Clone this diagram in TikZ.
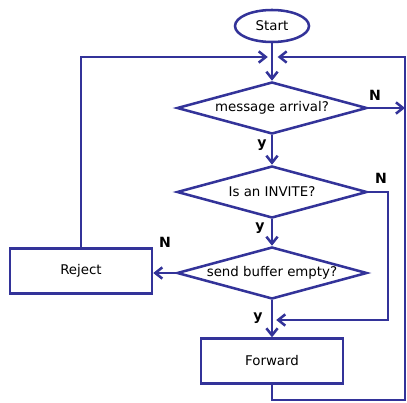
\documentclass[tikz,border=0pt]{standalone}
\usepackage{fontspec}
\setmainfont{DejaVu Sans}
\usetikzlibrary{shapes.geometric}
\usetikzlibrary{arrows.meta}

\definecolor{flowblue}{RGB}{51,51,153}

\begin{document}
\begin{tikzpicture}[x=0.025cm, y=-0.025cm, line width=1.8pt, draw=flowblue,
    font=\fontsize{9.5}{11}\selectfont,
    >={Straight Barb[length=5pt,width=8pt]},
    terminal/.style={ellipse, draw=flowblue, minimum width=1.85cm, minimum height=0.8cm, inner sep=0pt},
    decision/.style={diamond, draw=flowblue, aspect=3.5, minimum width=4.75cm, minimum height=1.3cm, inner sep=0pt},
    process/.style={rectangle, draw=flowblue, minimum width=3.55cm, minimum height=1.12cm},
    answer/.style={font=\fontsize{10}{12}\selectfont\bfseries}]
    \useasboundingbox (0,0) rectangle (407,402);

    % Nodes
    \node[terminal] (start) at (272,26) {Start};
    \node[decision] (arrival) at (272,108) {message arrival?};
    \node[decision] (invite) at (272,192) {Is an INVITE?};
    \node[decision] (buffer) at (272,273) {send buffer empty?};
    \node[process] (reject) at (81,271) {Reject};
    \node[process] (forward) at (272,361) {Forward};

    % Junctions
    \coordinate (join) at (272,57);
    \coordinate (merge) at (272,320);
    \coordinate (inviteout) at (388,192);
    \coordinate (loopbr) at (405,400);

    % Main flow
    \draw[->] (start.south) -- (arrival.north);
    \draw[->] (arrival.south) -- (invite.north);
    \draw[->] (invite.south) -- (buffer.north);
    \draw[->] (buffer.south) -- (forward.north);

    % No branches
    \draw[->] (arrival.east) -- (arrival.east -| loopbr);
    \draw[->] (invite.east) -- (inviteout) |- ([xshift=3]merge);
    \draw[->] (buffer.west) -- (buffer.west -| reject.east);

    % Loops back to the top
    \draw[->] (reject.north) |- ([xshift=-3]join);
    \draw[->] (forward.south) |- (loopbr) |- ([xshift=4]join);

    % Labels
    \node[answer] (n1) at (375,95) {N};
    \node[answer] (y1) at (262,145) {y};
    \node[answer] (n2) at (381,178) {N};
    \node[answer] (y2) at (260,228) {y};
    \node[answer] (n3) at (165,242) {N};
    \node[answer] (y3) at (258,318) {y};
\end{tikzpicture}
\end{document}
